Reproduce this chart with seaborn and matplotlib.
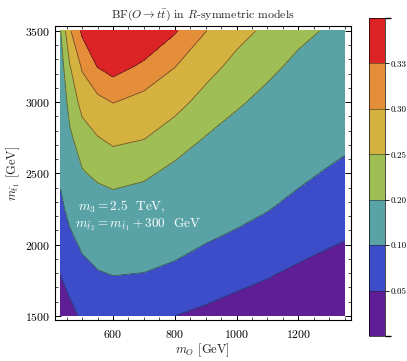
import numpy as np
import matplotlib
matplotlib.use("Agg")
import matplotlib.pyplot as plt
import seaborn as sns
from matplotlib.colors import ListedColormap, BoundaryNorm
from matplotlib.ticker import MultipleLocator

# ---- data ----
m_O = [430, 460, 500, 550, 600, 700, 800, 900, 1000, 1100, 1200, 1300, 1350]
m_st1 = [1500, 1750, 2000, 2250, 2500, 2750, 3000, 3250, 3500]

bf_1500 = [0.026, 0.038, 0.056, 0.059, 0.062, 0.059, 0.050, 0.041, 0.031, 0.022, 0.015, 0.010, 0.007]
bf_1750 = [0.047, 0.062, 0.080, 0.089, 0.095, 0.092, 0.082, 0.070, 0.059, 0.049, 0.039, 0.031, 0.028]
bf_2000 = [0.066, 0.086, 0.107, 0.126, 0.135, 0.129, 0.115, 0.099, 0.087, 0.075, 0.062, 0.052, 0.048]
bf_2250 = [0.088, 0.115, 0.151, 0.169, 0.177, 0.169, 0.150, 0.132, 0.116, 0.102, 0.086, 0.074, 0.068]
bf_2500 = [0.109, 0.152, 0.195, 0.211, 0.219, 0.209, 0.186, 0.165, 0.147, 0.130, 0.110, 0.095, 0.089]
bf_2750 = [0.131, 0.190, 0.229, 0.248, 0.260, 0.252, 0.226, 0.198, 0.177, 0.157, 0.136, 0.119, 0.111]
bf_3000 = [0.154, 0.220, 0.265, 0.291, 0.301, 0.289, 0.266, 0.233, 0.207, 0.185, 0.162, 0.144, 0.136]
bf_3250 = [0.176, 0.247, 0.306, 0.331, 0.342, 0.324, 0.301, 0.267, 0.236, 0.212, 0.188, 0.169, 0.161]
bf_3500 = [0.198, 0.296, 0.335, 0.369, 0.383, 0.358, 0.333, 0.301, 0.266, 0.240, 0.213, 0.194, 0.186]

levels = [0.0, 0.05, 0.10, 0.20, 0.25, 0.30, 0.33, 0.40]
cbar_ticks = [0.05, 0.10, 0.20, 0.25, 0.30, 0.33]
cbar_labels = ["0.05", "0.10", "0.20", "0.25", "0.30", "0.33"]
band_colors = ["#5f1d96", "#3d4dca", "#59a3a6", "#a0be56", "#d5b13f", "#e58e39", "#dc2426"]
x_ticks = [600, 800, 1000, 1200]
y_ticks = [1500, 2000, 2500, 3000, 3500]

# ---- style ----
sns.set_theme(style="ticks")
plt.rcParams.update({
    "font.family": ["cmr10", "DejaVu Serif"],
    "mathtext.fontset": "cm",
    "axes.formatter.use_mathtext": True,
    "axes.unicode_minus": False,
    "axes.edgecolor": "black",
    "axes.linewidth": 0.8,
    "xtick.color": "black",
    "ytick.color": "black",
})

Z = np.array([bf_1500, bf_1750, bf_2000, bf_2250, bf_2500,
              bf_2750, bf_3000, bf_3250, bf_3500])
X, Y = np.meshgrid(m_O, m_st1)

fig = plt.figure(figsize=(4.07, 3.61), dpi=100)
ax = fig.add_axes([0.135, 0.114, 0.727, 0.814])
cax = fig.add_axes([0.907, 0.069, 0.038, 0.881])

cmap = ListedColormap(band_colors)
norm = BoundaryNorm(levels, cmap.N)
cs = ax.contourf(X, Y, Z, levels=levels, cmap=cmap, norm=norm)
cl = ax.contour(X, Y, Z, levels=levels[1:-1], colors="#222222",
                linewidths=0.6, alpha=0.6)

ax.set_xlim(412, 1370)
ax.set_ylim(1472, 3535)
ax.set_xticks(x_ticks)
ax.set_yticks(y_ticks)
ax.xaxis.set_minor_locator(MultipleLocator(50))
ax.yaxis.set_minor_locator(MultipleLocator(100))
ax.tick_params(which="both", direction="in", top=True, right=True, labelsize=8.5)
ax.tick_params(which="major", length=4, width=0.7)
ax.tick_params(which="minor", length=2, width=0.5)
ax.tick_params(axis="x", pad=6)

ax.set_xlabel(r"$m_O$ [GeV]", fontsize=9, labelpad=1)
ax.set_ylabel(r"$m_{\tilde{t}_1}$ [GeV]", fontsize=9, labelpad=2)
ax.set_title(r"BF($O \to t\bar{t}$) in $R$-symmetric models", fontsize=8.5, pad=6)

ax.text(487, 2262, r"$m_3 = 2.5$  TeV,", color="white", fontsize=9.5,
        ha="left", va="center")
ax.text(477, 2140, r"$m_{\tilde{t}_2} = m_{\tilde{t}_1} + 300$  GeV", color="white",
        fontsize=9.5, ha="left", va="center")

cbar = fig.colorbar(cs, cax=cax, ticks=cbar_ticks)
cbar.add_lines(cl)
cbar.ax.tick_params(labelsize=6.5, length=3, width=0.6, direction="out", pad=1.5)
cbar.ax.set_yticklabels(cbar_labels)
cbar.outline.set_linewidth(0.5)

fig.savefig("out.png", dpi=100)
